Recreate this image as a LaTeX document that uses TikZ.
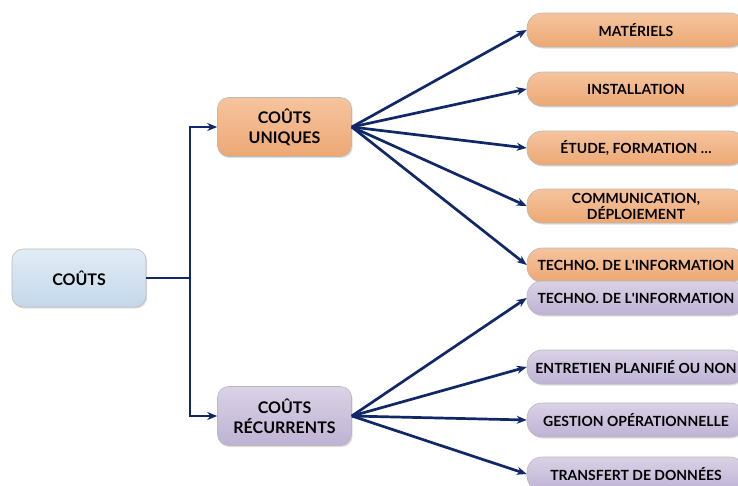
\documentclass[tikz,border=0pt]{standalone}
\usepackage{fontspec}
\setmainfont{Lato}
\usetikzlibrary{arrows.meta,shadows}

\definecolor{navy}{RGB}{16,40,104}
\definecolor{blueTop}{RGB}{226,236,245}
\definecolor{blueBot}{RGB}{196,216,234}
\definecolor{orangeTop}{RGB}{246,196,158}
\definecolor{orangeBot}{RGB}{236,168,116}
\definecolor{purpleTop}{RGB}{218,210,230}
\definecolor{purpleBot}{RGB}{190,178,212}

\tikzset{
  box/.style={draw=gray!55, line width=0.6pt, align=center, font=\bfseries,
    text=black, inner sep=0pt,
    drop shadow={shadow xshift=1.2pt, shadow yshift=-1.5pt, opacity=0.25, fill=gray}},
  mainbox/.style={box, rounded corners=11pt, minimum width=134pt, minimum height=58pt,
    font=\bfseries\fontsize{16}{20}\selectfont},
  leafbox/.style={box, rounded corners=15pt, minimum width=218pt, minimum height=34pt,
    font=\bfseries\fontsize{14}{16}\selectfont},
  rootcol/.style={top color=blueTop, bottom color=blueBot},
  unicol/.style={top color=orangeTop, bottom color=orangeBot},
  reccol/.style={top color=purpleTop, bottom color=purpleBot},
  link/.style={navy, line width=2.7pt, -{Stealth[length=10pt,width=8pt]}}
}

\begin{document}
\begin{tikzpicture}[x=1pt, y=-1pt]
    \useasboundingbox (0,0) rectangle (738,485);

    % Root
    \node[mainbox, rootcol] (couts) at (79,278) {CO\^UTS};

    % Two branches
    \node[mainbox, unicol, minimum height=59pt] (uniques) at (284.5,127) {CO\^UTS\\UNIQUES};
    \node[mainbox, reccol, minimum height=59pt] (recur) at (284.5,416) {CO\^UTS\\R\'ECURRENTS};

    % One-off costs
    \node[leafbox, unicol] (mat)   at (636,30)  {MAT\'ERIELS};
    \node[leafbox, unicol] (inst)  at (636,89)  {INSTALLATION};
    \node[leafbox, unicol] (etude) at (636,148) {\'ETUDE, FORMATION \dots};
    \node[leafbox, unicol] (comm)  at (636,206) {COMMUNICATION,\\D\'EPLOIEMENT};
    \node[leafbox, unicol] (techA) at (636,265) {TECHNO. DE L\textquotesingle INFORMATION};

    % Recurring costs
    \node[leafbox, reccol] (techB) at (636,298) {TECHNO. DE L\textquotesingle INFORMATION};
    \node[leafbox, reccol] (entr)  at (636,367) {ENTRETIEN PLANIFI\'E OU NON};
    \node[leafbox, reccol] (gest)  at (636,420) {GESTION OP\'ERATIONNELLE};
    \node[leafbox, reccol] (trans) at (636,474) {TRANSFERT DE DONN\'EES};

    % Elbow connectors from the root
    \coordinate (split) at (190,278);
    \draw[navy, line width=2.7pt] (couts.east) -- (split);
    \draw[link] (split) |- (uniques.west);
    \draw[link] (split) |- (recur.west);

    % Fans
    \foreach \leaf in {mat,inst,etude,comm,techA}
        \draw[link] (uniques.east) -- (\leaf.west);
    \foreach \leaf in {techB,entr,gest,trans}
        \draw[link] (recur.east) -- (\leaf.west);
\end{tikzpicture}
\end{document}
